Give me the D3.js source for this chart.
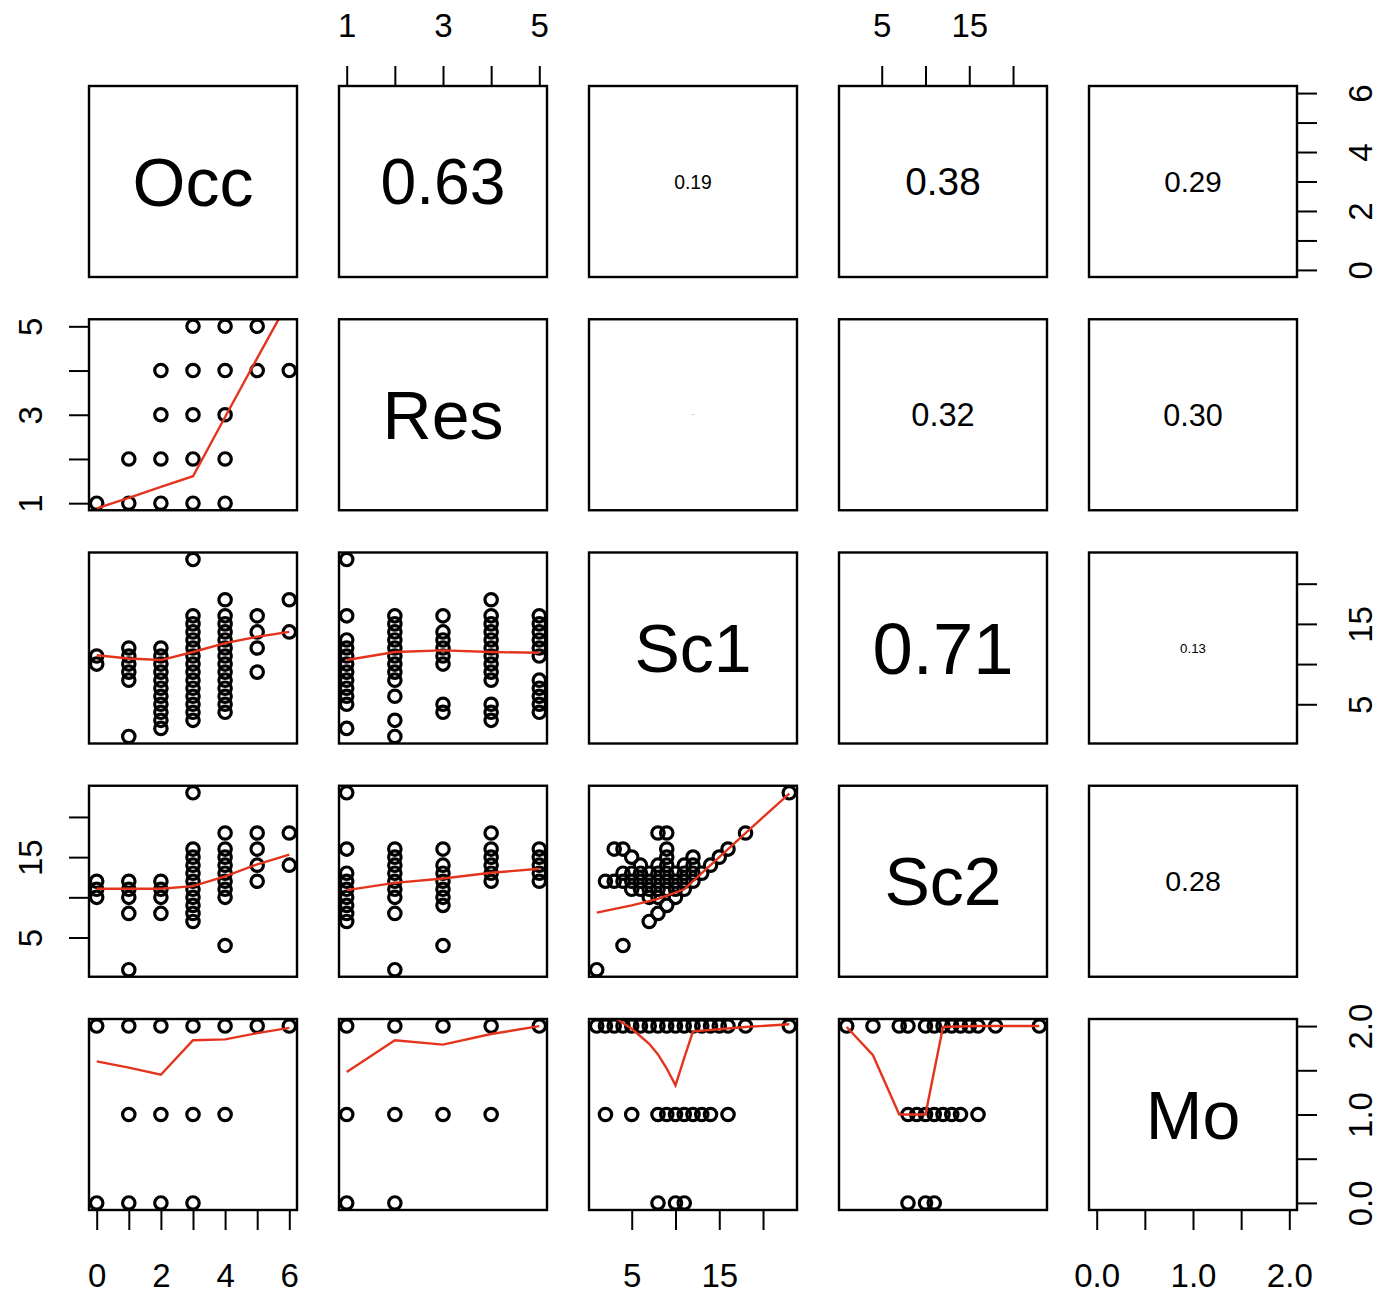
<!DOCTYPE html>
<html>
<head>
<meta charset="utf-8">
<script src="https://cdn.jsdelivr.net/npm/d3@7"></script>
<style>
  body { margin: 0; background: #fff; }
  text { font-family: "Liberation Sans", Arial, sans-serif; fill: #000; }
</style>
</head>
<body>
<svg id="chart"></svg>
<script>
"use strict"

// variables of the pairs plot
const varNames = ["Occ", "Res", "Sc1", "Sc2", "Mo"]
const varRanges = [[0, 6], [1, 5], [1, 23], [1, 23], [0, 2]]
const tickValues = [[0, 1, 2, 3, 4, 5, 6], [1, 2, 3, 4, 5], [5, 10, 15, 20], [5, 10, 15, 20], [0, 0.5, 1, 1.5, 2]]
const tickLabels = [[0, 2, 4, 6], [1, 3, 5], [5, 15], [5, 15], [0, 1, 2]]

// upper panels: [row, col, correlation]
const corrValues = [
    [0, 1, 0.63], [0, 2, 0.19], [0, 3, 0.38], [0, 4, 0.29],
    [1, 2, 0.01], [1, 3, 0.32], [1, 4, 0.30],
    [2, 3, 0.71], [2, 4, 0.13],
    [3, 4, 0.28]
]

// lower panels: points [x, y], x = column variable, y = row variable
const resByOcc = [[0, 1], [1, 1], [2, 1], [3, 1], [4, 1], [1, 2], [2, 2], [3, 2], [4, 2],
    [2, 3], [3, 3], [4, 3], [2, 4], [3, 4], [4, 4], [5, 4], [6, 4], [3, 5], [4, 5], [5, 5]]
const resByOccLowess = [[0, 0.88], [1, 1.12], [2, 1.37], [3, 1.61], [4, 2.95], [5, 4.28], [6, 5.6]]

const sc1ByOcc = [
    [0, 10], [0, 11],
    [1, 1], [1, 8], [1, 9], [1, 10], [1, 11], [1, 12],
    [2, 2], [2, 3], [2, 4], [2, 5], [2, 6], [2, 7], [2, 8], [2, 9], [2, 10], [2, 11], [2, 12],
    [3, 3], [3, 4], [3, 5], [3, 6], [3, 7], [3, 8], [3, 9], [3, 10], [3, 11], [3, 12], [3, 13], [3, 14], [3, 15], [3, 16], [3, 23],
    [4, 4], [4, 5], [4, 6], [4, 7], [4, 8], [4, 9], [4, 10], [4, 11], [4, 12], [4, 13], [4, 14], [4, 15], [4, 16], [4, 18],
    [5, 9], [5, 12], [5, 14], [5, 16],
    [6, 14], [6, 18]
]
const sc1ByOccLowess = [[0, 11.1], [1, 10.7], [2, 10.5], [3, 11.5], [4, 12.6], [5, 13.4], [6, 14.0]]

const sc1ByRes = [
    [1, 2], [1, 5], [1, 6], [1, 7], [1, 8], [1, 9], [1, 10], [1, 11], [1, 12], [1, 13], [1, 16], [1, 23],
    [2, 1], [2, 3], [2, 6], [2, 8], [2, 9], [2, 10], [2, 11], [2, 12], [2, 13], [2, 14], [2, 15], [2, 16],
    [3, 4], [3, 5], [3, 10], [3, 11], [3, 12], [3, 13], [3, 14], [3, 16],
    [4, 3], [4, 4], [4, 5], [4, 8], [4, 9], [4, 10], [4, 11], [4, 12], [4, 13], [4, 14], [4, 15], [4, 16], [4, 18],
    [5, 4], [5, 5], [5, 6], [5, 7], [5, 8], [5, 11], [5, 12], [5, 13], [5, 14], [5, 15], [5, 16]
]
const sc1ByResLowess = [[1, 10.5], [2, 11.5], [3, 11.7], [4, 11.5], [5, 11.4]]

const sc2ByOcc = [
    [0, 10], [0, 11], [0, 12],
    [1, 1], [1, 8], [1, 10], [1, 11], [1, 12],
    [2, 8], [2, 10], [2, 11], [2, 12],
    [3, 7], [3, 8], [3, 9], [3, 10], [3, 11], [3, 12], [3, 13], [3, 14], [3, 15], [3, 16], [3, 23],
    [4, 4], [4, 10], [4, 11], [4, 12], [4, 13], [4, 14], [4, 15], [4, 16], [4, 18],
    [5, 12], [5, 14], [5, 16], [5, 18],
    [6, 14], [6, 18]
]
const sc2ByOccLowess = [[0, 11.06], [1, 11.06], [2, 11.06], [3, 11.4], [4, 12.6], [5, 14.1], [6, 15.3]]

const sc2ByRes = [
    [1, 7], [1, 8], [1, 9], [1, 10], [1, 11], [1, 12], [1, 13], [1, 16], [1, 23],
    [2, 1], [2, 8], [2, 10], [2, 11], [2, 12], [2, 13], [2, 14], [2, 15], [2, 16],
    [3, 4], [3, 9], [3, 10], [3, 11], [3, 12], [3, 13], [3, 14], [3, 16],
    [4, 12], [4, 13], [4, 14], [4, 15], [4, 16], [4, 18],
    [5, 12], [5, 13], [5, 14], [5, 15], [5, 16]
]
const sc2ByResLowess = [[1, 10.9], [2, 11.8], [3, 12.35], [4, 13.06], [5, 13.55]]

const sc2BySc1 = [
    [1, 1], [4, 4], [7, 7], [8, 8], [9, 9], [10, 10], [11, 11], [12, 12], [13, 13], [14, 14],
    [15, 15], [16, 16], [18, 18], [23, 23], [8, 18], [9, 18], [9, 16], [9, 15], [3, 16], [4, 16],
    [5, 15], [2, 12], [3, 12], [4, 13], [4, 12], [5, 13], [5, 12], [5, 11], [6, 14], [6, 13],
    [6, 12], [6, 11], [7, 13], [7, 12], [7, 11], [7, 10], [8, 14], [8, 13], [8, 12], [8, 11],
    [8, 10], [9, 14], [9, 13], [9, 12], [9, 11], [10, 13], [10, 12], [10, 11], [11, 14], [11, 13],
    [11, 12], [12, 15], [12, 14], [12, 13]
]
const sc2BySc1Lowess = [[1, 8.1], [5, 9.0], [8, 9.8], [11, 11.0], [13, 13.0], [15, 15.0], [18, 18.0], [23, 22.9]]

const moByOcc = [[0, 2], [1, 2], [2, 2], [3, 2], [4, 2], [5, 2], [6, 2],
    [1, 1], [2, 1], [3, 1], [4, 1], [0, 0], [1, 0], [2, 0], [3, 0]]
const moByOccLowess = [[0, 1.6], [1, 1.53], [2, 1.45], [3, 1.84], [4, 1.85], [5, 1.92], [6, 1.98]]

const moByRes = [[1, 2], [2, 2], [3, 2], [4, 2], [5, 2], [1, 1], [2, 1], [3, 1], [4, 1], [1, 0], [2, 0]]
const moByResLowess = [[1, 1.48], [2, 1.84], [3, 1.79], [4, 1.91], [5, 2.0]]

const moBySc1 = [
    [1, 2], [2, 2], [3, 2], [4, 2], [5, 2], [6, 2], [7, 2], [8, 2], [9, 2], [10, 2], [11, 2],
    [12, 2], [13, 2], [14, 2], [15, 2], [16, 2], [18, 2], [23, 2],
    [2, 1], [5, 1], [8, 1], [9, 1], [10, 1], [11, 1], [12, 1], [13, 1], [14, 1], [16, 1],
    [8, 0], [10, 0], [11, 0]
]
const moBySc1Lowess = [[1, 2.22], [3, 2.1], [5, 1.97], [7, 1.8], [8, 1.68], [9, 1.52], [10, 1.33],
    [11, 1.64], [12, 1.94], [18, 1.99], [23, 2.02]]

const moBySc2 = [
    [1, 2], [4, 2], [7, 2], [8, 2], [10, 2], [11, 2], [12, 2], [13, 2], [14, 2], [15, 2], [16, 2], [18, 2], [23, 2],
    [8, 1], [9, 1], [10, 1], [11, 1], [12, 1], [13, 1], [14, 1], [16, 1],
    [8, 0], [10, 0], [11, 0]
]
const moBySc2Lowess = [[1, 1.99], [4, 1.67], [7, 1.0], [10, 1.0], [12, 1.99], [16, 2.0], [23, 2.0]]

const lowerPanels = [
    { row: 1, col: 0, points: resByOcc, smooth: resByOccLowess },
    { row: 2, col: 0, points: sc1ByOcc, smooth: sc1ByOccLowess },
    { row: 2, col: 1, points: sc1ByRes, smooth: sc1ByResLowess },
    { row: 3, col: 0, points: sc2ByOcc, smooth: sc2ByOccLowess },
    { row: 3, col: 1, points: sc2ByRes, smooth: sc2ByResLowess },
    { row: 3, col: 2, points: sc2BySc1, smooth: sc2BySc1Lowess },
    { row: 4, col: 0, points: moByOcc, smooth: moByOccLowess },
    { row: 4, col: 1, points: moByRes, smooth: moByResLowess },
    { row: 4, col: 2, points: moBySc1, smooth: moBySc1Lowess },
    { row: 4, col: 3, points: moBySc2, smooth: moBySc2Lowess },
]

const width = 1381, height = 1295
const marginLeft = 89, marginTop = 86
const panelW = 208, panelH = 191
const stepX = 250, stepY = 233.25
const tickLen = 20
const axisFont = 33

const svg = d3.select("#chart").attr("width", width).attr("height", height)
svg.append("rect").attr("width", width).attr("height", height).attr("fill", "#fff")

// R style 4% padding on the data range
function padded(range) {
    const r = range[1] - range[0]
    return [range[0] - 0.04 * r, range[1] + 0.04 * r]
}

function xScale(col) {
    const x0 = marginLeft + col * stepX
    return d3.scaleLinear().domain(padded(varRanges[col])).range([x0, x0 + panelW])
}

function yScale(row) {
    const y0 = marginTop + row * stepY
    return d3.scaleLinear().domain(padded(varRanges[row])).range([y0 + panelH, y0])
}

function fmt(v) {
    return (k) => tickLabels[v].includes(k) ? (v == 4 ? d3.format(".1f")(k) : String(k)) : ""
}

const defs = svg.append("defs")

for (let i = 0; i < 5; i++) {
    for (let j = 0; j < 5; j++) {
        const x0 = marginLeft + j * stepX, y0 = marginTop + i * stepY
        defs.append("clipPath").attr("id", `clip-${i}-${j}`)
            .append("rect").attr("x", x0).attr("y", y0).attr("width", panelW).attr("height", panelH)
    }
}

// lower panels: scatter + smooth
lowerPanels.forEach(p => {
    const x = xScale(p.col), y = yScale(p.row)
    const g = svg.append("g").attr("clip-path", `url(#clip-${p.row}-${p.col})`)

    g.selectAll("circle").data(p.points).join("circle")
        .attr("cx", d => x(d[0]))
        .attr("cy", d => y(d[1]))
        .attr("r", 6.2)
        .attr("fill", "none")
        .attr("stroke", "#000")
        .attr("stroke-width", 3.2)

    g.append("path")
        .datum(p.smooth)
        .attr("d", d3.line().x(d => x(d[0])).y(d => y(d[1])))
        .attr("fill", "none")
        .attr("stroke", "#e5341d")
        .attr("stroke-width", 2.4)
})

// upper panels: correlation text scaled by r
const corrSize = d3.scaleLinear().domain([0, 1]).range([0, 102])

corrValues.forEach(c => {
    const cx = marginLeft + c[1] * stepX + panelW / 2
    const cy = marginTop + c[0] * stepY + panelH / 2
    svg.append("text")
        .attr("x", cx).attr("y", cy)
        .attr("text-anchor", "middle")
        .attr("dominant-baseline", "central")
        .attr("font-size", corrSize(c[2]))
        .text(d3.format(".2f")(c[2]))
})

// diagonal labels
varNames.forEach((name, k) => {
    svg.append("text")
        .attr("x", marginLeft + k * stepX + panelW / 2)
        .attr("y", marginTop + k * stepY + panelH / 2)
        .attr("text-anchor", "middle")
        .attr("dominant-baseline", "central")
        .attr("font-size", 68)
        .text(name)
})

// boxes
for (let i = 0; i < 5; i++) {
    for (let j = 0; j < 5; j++) {
        svg.append("rect")
            .attr("x", marginLeft + j * stepX).attr("y", marginTop + i * stepY)
            .attr("width", panelW).attr("height", panelH)
            .attr("fill", "none").attr("stroke", "#000").attr("stroke-width", 2.4)
    }
}

// axes, alternating sides like pairs()
function styleAxis(g) {
    g.select(".domain").remove()
    g.selectAll(".tick line").attr("stroke", "#000").attr("stroke-width", 2)
    g.selectAll(".tick text").attr("font-size", axisFont).attr("font-family", "Liberation Sans, Arial, sans-serif")
}

for (let k = 0; k < 5; k++) {
    const x = xScale(k), y = yScale(k)
    const ticks = tickValues[k]
    const first = ticks[0], last = ticks[ticks.length - 1]

    if (k % 2 == 0) {
        // bottom axis under the last row
        const yb = marginTop + 4 * stepY + panelH
        const g = svg.append("g").attr("transform", `translate(0,${yb})`)
            .call(d3.axisBottom(x).tickValues(ticks).tickSize(tickLen).tickSizeOuter(0).tickFormat(fmt(k)))
        styleAxis(g)
        g.selectAll(".tick text").attr("y", 77).attr("dy", null)
        g.append("line").attr("x1", x(first)).attr("x2", x(last)).attr("stroke", "#000").attr("stroke-width", 2)
    } else {
        const g = svg.append("g").attr("transform", `translate(0,${marginTop})`)
            .call(d3.axisTop(x).tickValues(ticks).tickSize(tickLen).tickSizeOuter(0).tickFormat(fmt(k)))
        styleAxis(g)
        g.selectAll(".tick text").attr("y", -49).attr("dy", null)
        g.append("line").attr("x1", x(first)).attr("x2", x(last)).attr("stroke", "#000").attr("stroke-width", 2)
    }

    if (k % 2 == 0) {
        // right axis
        const xr = marginLeft + 4 * stepX + panelW
        const g = svg.append("g").attr("transform", `translate(${xr},0)`)
            .call(d3.axisRight(y).tickValues(ticks).tickSize(tickLen).tickSizeOuter(0).tickFormat(fmt(k)))
        styleAxis(g)
        g.selectAll(".tick text")
            .attr("transform", "rotate(-90)")
            .attr("x", 0).attr("y", 75).attr("dy", null)
            .attr("text-anchor", "middle")
        g.append("line").attr("y1", y(first)).attr("y2", y(last)).attr("stroke", "#000").attr("stroke-width", 2)
    } else {
        const g = svg.append("g").attr("transform", `translate(${marginLeft},0)`)
            .call(d3.axisLeft(y).tickValues(ticks).tickSize(tickLen).tickSizeOuter(0).tickFormat(fmt(k)))
        styleAxis(g)
        g.selectAll(".tick text")
            .attr("transform", "rotate(-90)")
            .attr("x", 0).attr("y", -47).attr("dy", null)
            .attr("text-anchor", "middle")
        g.append("line").attr("y1", y(first)).attr("y2", y(last)).attr("stroke", "#000").attr("stroke-width", 2)
    }
}
</script>
</body>
</html>
